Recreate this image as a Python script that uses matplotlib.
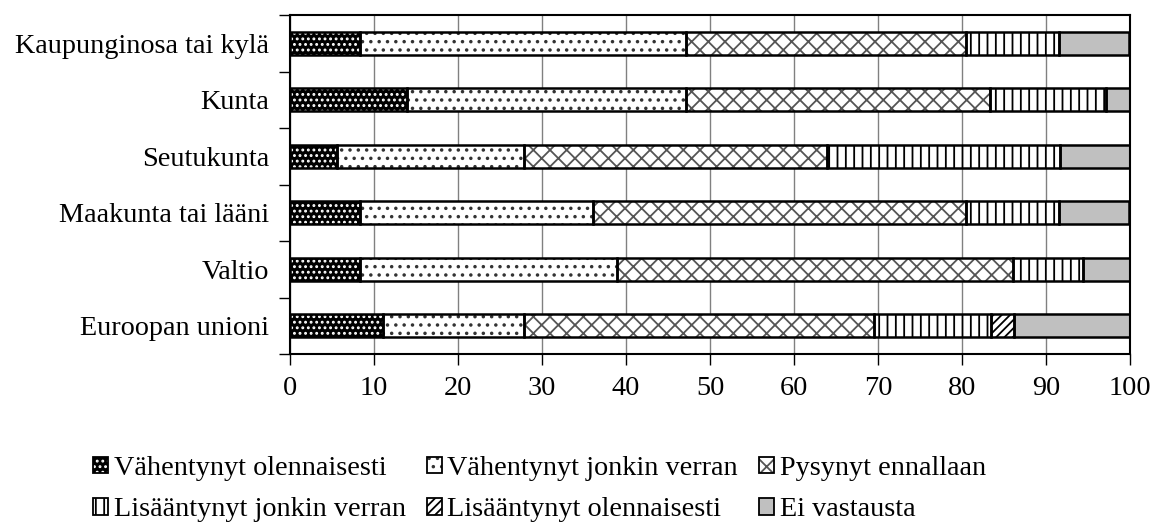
import matplotlib
matplotlib.use("Agg")
import matplotlib.pyplot as plt
from matplotlib.patches import Patch
from matplotlib.legend_handler import HandlerTuple
import numpy as np

categories = ["Kaupunginosa tai kylä", "Kunta", "Seutukunta",
              "Maakunta tai lääni", "Valtio", "Euroopan unioni"]
series_names = ["Vähentynyt olennaisesti", "Vähentynyt jonkin verran",
                "Pysynyt ennallaan", "Lisääntynyt jonkin verran",
                "Lisääntynyt olennaisesti", "Ei vastausta"]
vah_olen = [8.3, 13.9, 5.6, 8.3, 8.3, 11.1]
vah_jonk = [38.9, 33.3, 22.2, 27.8, 30.6, 16.7]
pysynyt = [33.3, 36.1, 36.1, 44.4, 47.2, 41.7]
lis_jonk = [11.1, 13.9, 27.8, 11.1, 8.3, 13.9]
lis_olen = [0.0, 0.0, 0.0, 0.0, 0.0, 2.8]
ei_vast = [8.3, 2.8, 8.3, 8.3, 5.6, 13.9]
xticks = [0, 10, 20, 30, 40, 50, 60, 70, 80, 90, 100]

series = [vah_olen, vah_jonk, pysynyt, lis_jonk, lis_olen, ei_vast]
# (facecolor, hatchcolor, hatch)
styles = [("black", "white", "..."),
          ("white", "#333333", ".."),
          ("white", "#555555", "xx"),
          ("white", "black", "||"),
          ("white", "black", "////"),
          ("#C0C0C0", "#C0C0C0", None)]

plt.rcParams["font.family"] = ["Liberation Serif", "DejaVu Serif"]
plt.rcParams["hatch.linewidth"] = 1.3
FS = 20.3

fig = plt.figure(figsize=(11.55, 5.24), dpi=100)
ax = fig.add_axes([290/1155, 1-354/524, 840/1155, 339/524])

y = np.arange(len(categories))
left = np.zeros(len(categories))
for vals, (fc, hc, h) in zip(series, styles):
    vals = np.array(vals)
    m = vals > 0
    ax.barh(y[m], vals[m], left=left[m], height=0.4, facecolor=fc,
            edgecolor=hc, hatch=h, linewidth=0, zorder=2)
    ax.barh(y[m], vals[m], left=left[m], height=0.4, fill=False,
            edgecolor="black", linewidth=1.8, zorder=3)
    left += vals

ax.set_xlim(0, 100)
ax.set_ylim(len(categories)-0.5, -0.5)
ax.set_xticks(xticks)
ax.set_xticklabels([str(t) for t in xticks], fontsize=FS)
ax.set_yticks(y)
ax.set_yticklabels(categories, fontsize=FS)
ax.set_yticks(np.arange(len(categories)+1)-0.5, minor=True)
ax.tick_params(axis="y", which="major", length=0, pad=15)
ax.tick_params(axis="y", which="minor", length=8, width=1, direction="out")
ax.tick_params(axis="x", length=8, width=1, direction="out", pad=8)
ax.xaxis.grid(True, color="#808080", linewidth=1, zorder=0)
ax.set_axisbelow(True)
for s in ax.spines.values():
    s.set_linewidth(1.5)
    s.set_color("black")

handles = []
for fc, hc, h in styles:
    handles.append((Patch(facecolor=fc, edgecolor=hc, hatch=h, linewidth=0),
                    Patch(fill=False, edgecolor="black", linewidth=1.3)))
order = [0, 3, 1, 4, 2, 5]
leg = fig.legend([handles[i] for i in order], [series_names[i] for i in order],
                 handler_map={tuple: HandlerTuple(ndivide=1, pad=0)},
                 ncol=3, loc="upper left", bbox_to_anchor=(93/1155, 1-456/524),
                 frameon=False, fontsize=FS, handlelength=0.53, handleheight=0.53,
                 handletextpad=0.2, columnspacing=0.75, labelspacing=0.58,
                 borderpad=0, borderaxespad=0)

fig.savefig("out.png", dpi=100)
